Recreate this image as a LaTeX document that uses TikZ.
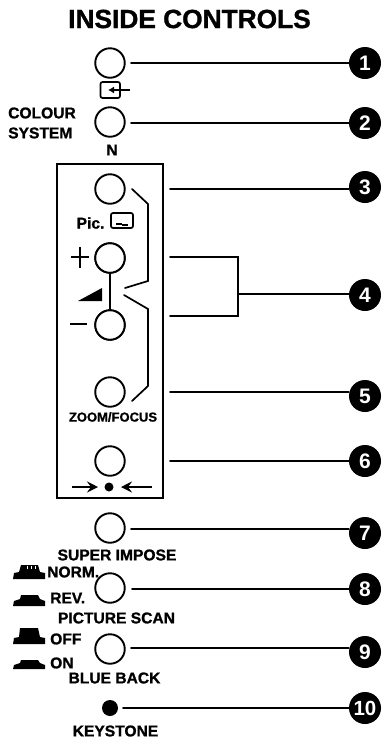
\documentclass[tikz,border=0pt]{standalone}
\usepackage{fontspec}
\setmainfont{Liberation Sans}[BoldFeatures={FakeBold=1.2}]
\newfontfamily\numfont{Liberation Sans}
\usetikzlibrary{arrows.meta}
\tikzset{
  knob/.style={circle,draw=black,line width=1.9pt,minimum size=29.5pt,inner sep=0pt,fill=white},
  num/.style={circle,fill=black,minimum size=32pt,inner sep=0pt,text=white,font=\numfont\bfseries\fontsize{21}{21}\selectfont},
  numw/.style={num,font=\numfont\bfseries\fontsize{20.5}{21}\selectfont},
  lab/.style={inner sep=0pt,font=\bfseries\fontsize{15.6}{16}\selectfont},
  labs/.style={inner sep=0pt,font=\bfseries\fontsize{13}{14}\selectfont},
  wire/.style={line width=1.7pt,line cap=round,line join=miter},
  frameline/.style={line width=1.9pt,line join=miter},
  arrowline/.style={line width=1.9pt,-{Stealth[length=11pt,width=11pt,inset=4pt]}},
  key/.style={fill=black,draw=none}
}
\begin{document}
\begin{tikzpicture}[x=1pt,y=-1pt]
\useasboundingbox (0,0) rectangle (381,740);
\node[inner sep=0pt,font=\bfseries\fontsize{26.3}{27}\selectfont] (title) at (189.5,19) {INSIDE CONTROLS};
% frame
\draw[frameline] (57,164) rectangle (163,498);
% knobs
\node[knob] (k1) at (110,63) {};
\node[knob] (k2) at (110,122) {};
\node[knob] (k3) at (110,189) {};
\node[knob] (kp) at (110,258) {};
\node[knob] (km) at (110,325) {};
\node[knob] (k5) at (110,392) {};
\node[knob] (k6) at (110,461) {};
\node[knob] (k7) at (110,528) {};
\node[knob] (k8) at (110,588) {};
\node[knob] (k9) at (110,649) {};
\node[circle,fill=black,minimum size=16pt,inner sep=0pt] (k10) at (110,708) {};
% number discs
\node[num] (n1) at (365,63) {1};
\node[num] (n2) at (365,123) {2};
\node[num] (n3) at (365,187) {3};
\node[num] (n4) at (365,295) {4};
\node[num] (n5) at (365,396) {5};
\node[num] (n6) at (365,461) {6};
\node[num] (n7) at (365,533) {7};
\node[num] (n8) at (365,589) {8};
\node[num] (n9) at (365,652) {9};
\node[numw] (n10) at (365,708) {10};
% line start points
\coordinate (s1) at (131,63);
\coordinate (s2) at (131,123);
\coordinate (s3) at (170,189);
\coordinate (s5) at (170,392);
\coordinate (s6) at (170,461);
\coordinate (s7) at (131,529);
\coordinate (s8) at (132,589);
\coordinate (s9) at (131,648);
\coordinate (s10) at (123,708);
\foreach \i in {1,2,3,5,6,7,8,9,10}{\draw[wire] (s\i) -- (s\i -| n\i.west);}
% bracket to 4
\coordinate (b1) at (170,257);
\coordinate (b2) at (238,257);
\coordinate (b3) at (238,316);
\coordinate (b4) at (170,316);
\coordinate (b5) at (238,294);
\draw[wire] (b1) -- (b2) -- (b3) -- (b4);
\draw[wire] (b5) -- (b5 -| n4.west);
% link + to -
\draw[wire] (kp) -- (km);
\node[knob] at (kp) {};
\node[knob] at (km) {};
% angled brackets inside frame
\coordinate (a1) at (132,189);
\coordinate (a2) at (148,204);
\coordinate (a3) at (148,281);
\coordinate (a4) at (125,288);
\coordinate (c1) at (124,295);
\coordinate (c2) at (148,309);
\coordinate (c3) at (148,386);
\coordinate (c4) at (132,401);
\draw[wire] (a1) -- (a2) -- (a3) -- (a4);
\draw[wire] (c1) -- (c2) -- (c3) -- (c4);
% volume wedge, plus, minus
\fill (78,301) -- (102,288) -- (102,301) -- cycle;
\draw[line width=1.7pt] (71,257) -- (89,257) (80,247) -- (80,268);
\draw[line width=1.7pt] (70,324) -- (87,324);
% input icon
\draw[line width=1.7pt,rounded corners=2pt] (100.5,82) rectangle (120,98);
\draw[line width=1.7pt,-{Latex[length=6pt,width=7pt]}] (130,90) -- (108,90);
% picture icon
\draw[line width=1.7pt,rounded corners=2pt] (111,213) rectangle (133,228);
\draw[line width=1.3pt] (116,224) -- (122,224) (122,225) -- (128,225);
% arrows under knob 6
\draw[arrowline] (72,487) -- (98,487);
\draw[arrowline] (152,487) -- (121,487);
\fill (109,487) circle (4.5);
% piano keys
\fill[key] (13,579) -- (14,573) -- (19,572) -- (21,565) -- (38,565) -- (40,572) -- (45,573) -- (45,579) -- cycle;
\draw[white,line width=.6pt] (27,565.5) -- (27,569) (31,565.5) -- (31,569) (35,565.5) -- (35,569);
\fill[key] (13,606) -- (14,601) -- (20,599) -- (21,595) -- (38,595) -- (40,599) -- (45,601) -- (45,606) -- cycle;
\fill[key] (13,644) -- (14,638) -- (19,637) -- (20,628) -- (38,628) -- (40,637) -- (45,638) -- (45,644) -- cycle;
\fill[key] (13,669) -- (14,665) -- (20,663) -- (21,660) -- (38,660) -- (40,663) -- (45,665) -- (45,669) -- cycle;
% labels
\node[lab,align=left,anchor=west] (colour) at (8,113) {COLOUR};
\node[lab,align=left,anchor=west] (system) at (8,133) {SYSTEM};
\node[lab] (ntext) at (112,150) {N};
\node[lab] (pic) at (90.5,223) {Pic.};
\node[labs] (zoom) at (113,417) {ZOOM/FOCUS};
\node[lab] (super) at (117,555) {SUPER IMPOSE};
\node[lab,anchor=west] (norm) at (47,572) {NORM.};
\node[lab,anchor=west] (rev) at (50,598) {REV.};
\node[lab] (scan) at (116.5,618) {PICTURE SCAN};
\node[lab,anchor=west] (off) at (50,639) {OFF};
\node[lab,anchor=west] (on) at (50,663) {ON};
\node[lab] (blue) at (114.5,678) {BLUE BACK};
\node[lab] (key) at (115.5,731) {KEYSTONE};
\end{tikzpicture}
\end{document}
